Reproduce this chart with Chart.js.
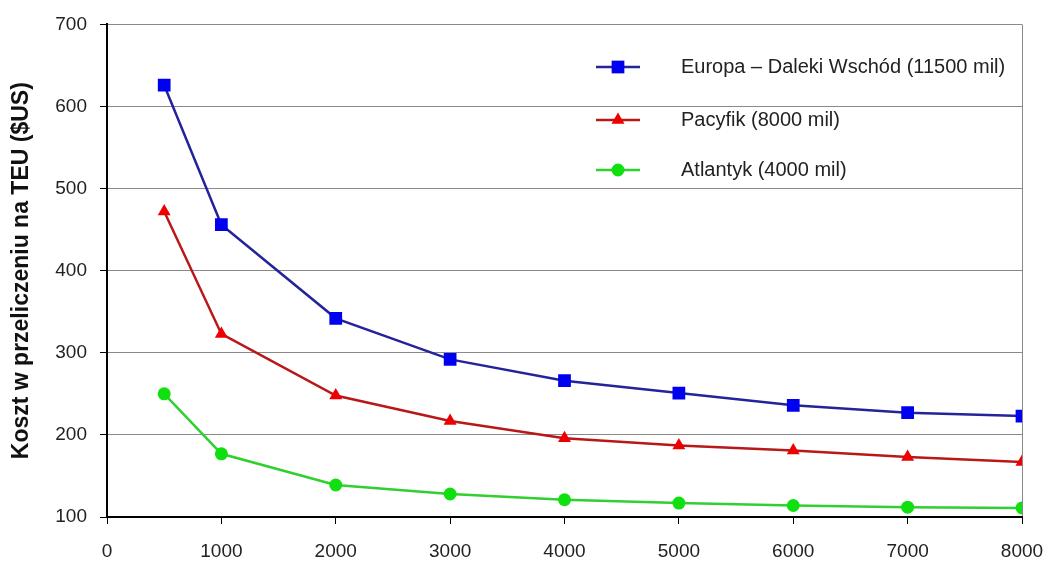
<!DOCTYPE html>
<html>
<head>
<meta charset="utf-8">
<script src="https://cdn.jsdelivr.net/npm/chart.js@4/dist/chart.umd.min.js"></script>
<style>
  html, body { margin: 0; padding: 0; background: #fff; }
  #wrap { width: 1046px; height: 562px; }
</style>
</head>
<body>
<div id="wrap"><canvas id="myChart" width="1046" height="562"></canvas></div>
<script>
// container capacity (TEU) on x, cost per TEU on y
const capacity = [500, 1000, 2000, 3000, 4000, 5000, 6000, 7000, 8000];
const europaDalekiWschod = [626, 456, 342, 292, 266, 251, 236, 227, 223];
const pacyfik = [472, 323, 248, 217, 196, 187, 181, 173, 167];
const atlantyk = [250, 177, 139, 128, 121, 117, 114, 112, 111];
const seriesNames = ["Europa – Daleki Wschód (11500 mil)", "Pacyfik (8000 mil)", "Atlantyk (4000 mil)"];
const xTicks = [0, 1000, 2000, 3000, 4000, 5000, 6000, 7000, 8000];
const yTicks = [100, 200, 300, 400, 500, 600, 700];

const FONT = "'Liberation Sans', Arial, sans-serif";

function toPoints(vals) {
  return vals.map((v, i) => ({ x: capacity[i], y: v }));
}

// legend drawn inside the plot, line + marker like the original
const insideLegend = {
  id: "insideLegend",
  afterDraw(chart) {
    const ctx = chart.ctx;
    const rows = [67, 120, 170];
    chart.data.datasets.forEach((ds, i) => {
      const y = rows[i];
      ctx.save();
      ctx.strokeStyle = ds.borderColor;
      ctx.lineWidth = ds.borderWidth;
      ctx.beginPath();
      ctx.moveTo(596, y);
      ctx.lineTo(640, y);
      ctx.stroke();
      ctx.fillStyle = ds.pointBackgroundColor;
      Chart.helpers.drawPoint(ctx, { pointStyle: ds.pointStyle, radius: ds.pointRadius, borderWidth: 0 }, 618, y);
      ctx.fillStyle = "#222";
      ctx.font = "20px " + FONT;
      ctx.textBaseline = "middle";
      ctx.textAlign = "left";
      ctx.fillText(ds.label, 681, y);
      ctx.restore();
    });
  }
};

new Chart(document.getElementById("myChart"), {
  type: "line",
  data: {
    datasets: [
      {
        label: seriesNames[0],
        data: toPoints(europaDalekiWschod),
        borderColor: "#24249a",
        borderWidth: 2.5,
        pointStyle: "rect",
        pointRadius: 9,
        pointBackgroundColor: "#0000f0",
        pointBorderWidth: 0,
        tension: 0,
      },
      {
        label: seriesNames[1],
        data: toPoints(pacyfik),
        borderColor: "#b81818",
        borderWidth: 2.5,
        pointStyle: "triangle",
        pointRadius: 7.5,
        pointBackgroundColor: "#ee0000",
        pointBorderWidth: 0,
        tension: 0,
      },
      {
        label: seriesNames[2],
        data: toPoints(atlantyk),
        borderColor: "#30d030",
        borderWidth: 2.5,
        pointStyle: "circle",
        pointRadius: 6.5,
        pointBackgroundColor: "#10e010",
        pointBorderWidth: 0,
        tension: 0,
      },
    ],
  },
  options: {
    responsive: false,
    animation: false,
    layout: { padding: { top: 24, right: 0, left: 0, bottom: 0 } },
    plugins: {
      legend: { display: false },
      tooltip: { enabled: false },
    },
    scales: {
      x: {
        type: "linear",
        min: 0,
        max: 8000,
        afterBuildTicks: (scale) => { scale.ticks = xTicks.map((v) => ({ value: v })); },
        afterFit: (scale) => {
          scale.height = 45;
          scale.paddingRight = 24;
          scale.paddingLeft = 0;
        },
        border: { color: "#000", width: 2 },
        grid: {
          color: (c) => (c.index === xTicks.length - 1 ? "#8a8a8a" : "rgba(0,0,0,0)"),
          tickColor: "#000",
          tickLength: 7,
          lineWidth: 1,
        },
        ticks: {
          color: "#222",
          font: { family: FONT, size: 19 },
          padding: 16,
          maxRotation: 0,
          callback: (v) => String(v),
        },
      },
      y: {
        min: 100,
        max: 700,
        afterBuildTicks: (scale) => { scale.ticks = yTicks.map((v) => ({ value: v })); },
        afterFit: (scale) => { scale.width = 107; },
        border: { color: "#000", width: 2 },
        grid: {
          color: "#8a8a8a",
          tickColor: "#000",
          tickLength: 7,
          lineWidth: 1,
        },
        ticks: {
          color: "#222",
          font: { family: FONT, size: 19 },
          padding: 13,
          callback: (v) => String(v),
        },
        title: {
          display: true,
          text: "Koszt w przeliczeniu na TEU ($US)",
          color: "#111",
          font: { family: FONT, size: 23, weight: "bold" },
          padding: { top: 8, bottom: 4 },
        },
      },
    },
  },
  plugins: [insideLegend],
});
</script>
</body>
</html>
